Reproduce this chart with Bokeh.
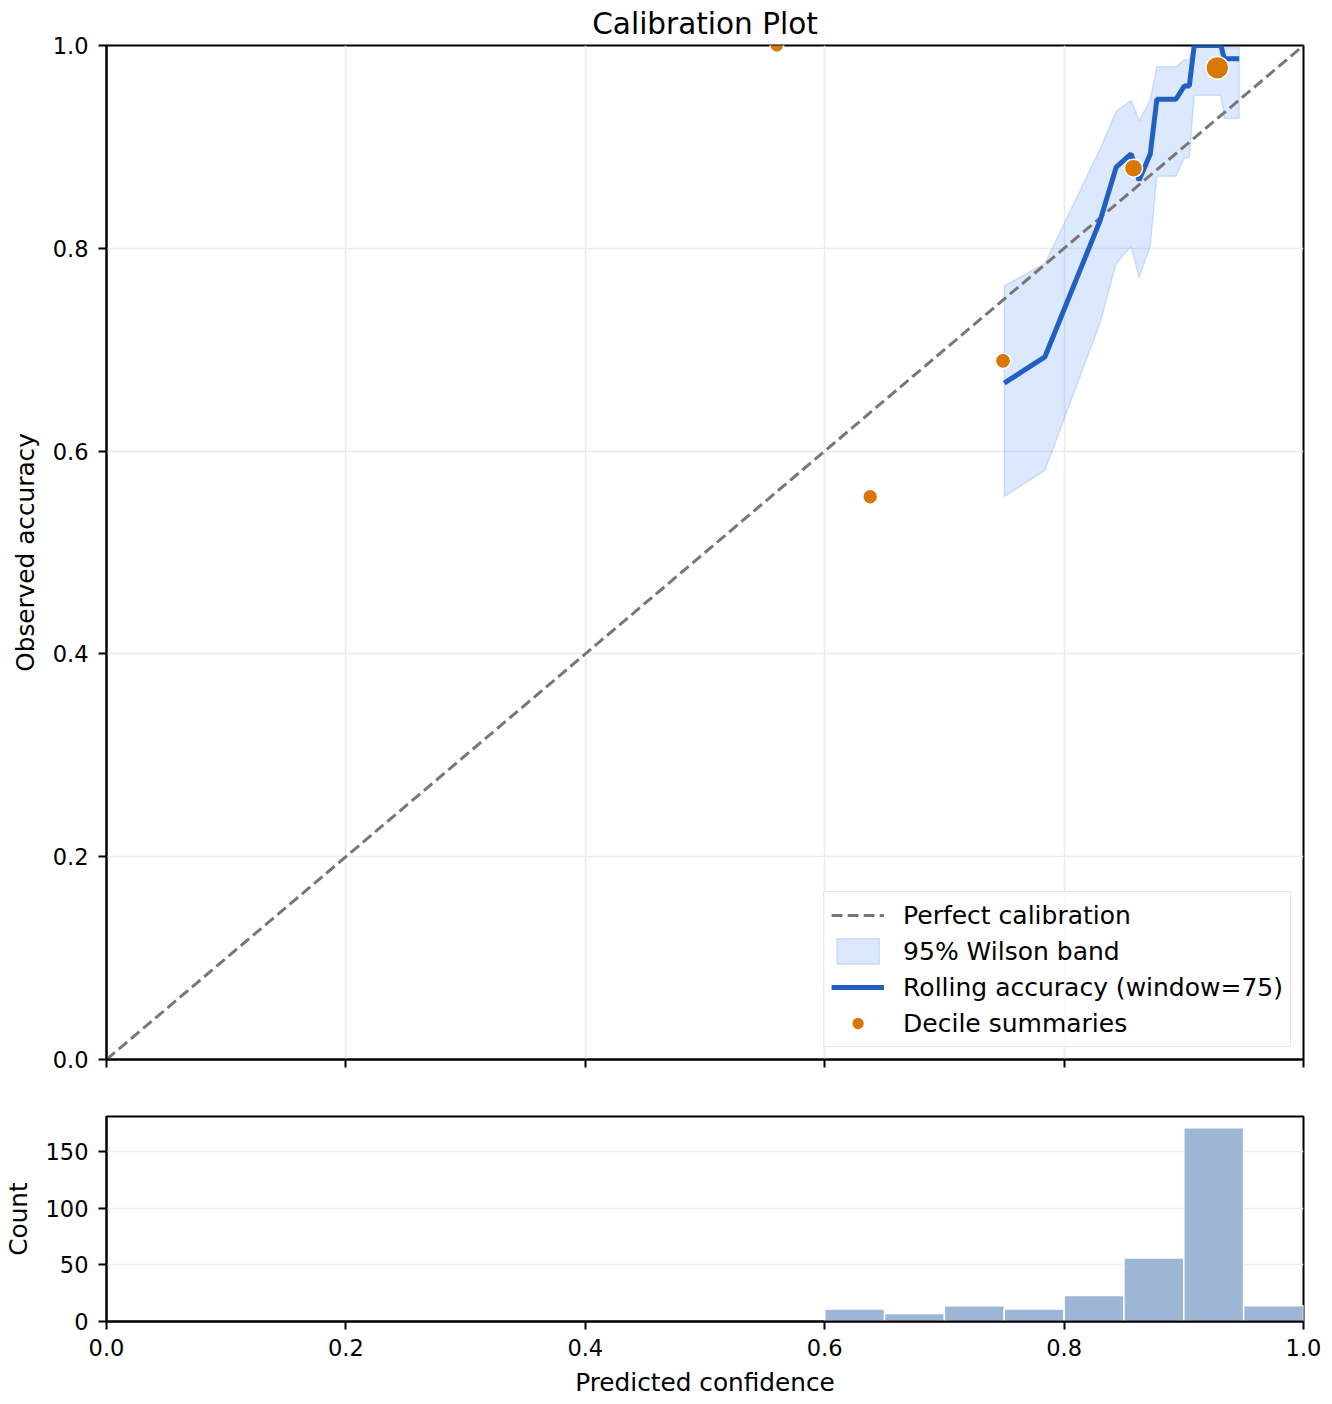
import numpy as np
from bokeh.plotting import figure
from bokeh.layouts import column
from bokeh.models import (Range1d, FixedTicker, PrintfTickFormatter, CustomJSTickFormatter,
                          Legend, LegendItem)
from bokeh.embed import file_html
from bokeh.resources import INLINE

# ---------------- data ----------------
diag = [0.0, 1.0]

roll_x = [0.750, 0.784, 0.830, 0.8435, 0.856, 0.8626, 0.872, 0.8775, 0.8934,
          0.9004, 0.9046, 0.9087, 0.9310, 0.9338, 0.9463]
roll_acc = [0.667, 0.693, 0.827, 0.880, 0.893, 0.867, 0.893, 0.947, 0.947,
            0.960, 0.960, 1.000, 1.000, 0.987, 0.987]
band_lo = [0.555, 0.581, 0.726, 0.785, 0.802, 0.771, 0.802, 0.871, 0.871,
           0.889, 0.889, 0.951, 0.951, 0.928, 0.928]
band_hi = [0.763, 0.785, 0.898, 0.935, 0.946, 0.926, 0.946, 0.979, 0.979,
           0.986, 0.986, 1.000, 1.000, 0.998, 0.998]

dec_x = [0.560, 0.638, 0.749, 0.858, 0.928]
dec_acc = [1.000, 0.555, 0.689, 0.879, 0.978]
dec_n = [1, 18, 25, 79, 185]

hist_edges = [0.60, 0.65, 0.70, 0.75, 0.80, 0.85, 0.90, 0.95, 1.00]
hist_counts = [11, 7, 14, 11, 23, 56, 171, 14]

conf_ticks = [0.0, 0.2, 0.4, 0.6, 0.8, 1.0]
acc_ticks = [0.0, 0.2, 0.4, 0.6, 0.8, 1.0]
count_ticks = [0, 50, 100, 150]

# ---------------- style ----------------
FONT = "DejaVu Sans"
TICK_FS = "22.5px"
LABEL_FS = "24.75px"
LEGEND_FS = "25px"
GRID = "#ebebeb"


def style_axes(p):
    p.outline_line_color = "black"
    p.outline_line_width = 2
    p.outline_line_alpha = 1
    for ax in p.axis:
        ax.axis_line_color = "black"
        ax.axis_line_width = 2
        ax.major_tick_line_color = "black"
        ax.major_tick_line_width = 2
        ax.major_tick_out = 8
        ax.major_tick_in = 0
        ax.minor_tick_line_color = None
        ax.major_label_text_font = FONT
        ax.major_label_text_font_size = TICK_FS
        ax.major_label_text_color = "black"
        ax.major_label_standoff = 9
        ax.axis_label_text_font = FONT
        ax.axis_label_text_font_size = LABEL_FS
        ax.axis_label_text_font_style = "normal"
        ax.axis_label_text_color = "black"
        ax.axis_label_standoff = 9
    for ax in p.yaxis:
        ax.major_label_standoff = 10
        ax.axis_label_standoff = 10


# ---------------- main calibration plot ----------------
p1 = figure(frame_width=1197, frame_height=1014,
            x_range=Range1d(0, 1), y_range=Range1d(0, 1),
            output_backend="svg", toolbar_location=None,
            min_border_left=106, min_border_right=20, min_border_top=45,
            min_border_bottom=30, title="Calibration Plot")
p1.title.align = "center"
p1.title.text_font = FONT
p1.title.text_font_size = "29.5px"
p1.title.text_font_style = "normal"
p1.title.text_color = "black"
p1.title.standoff = 9

style_axes(p1)
p1.xaxis.ticker = FixedTicker(ticks=conf_ticks)
p1.xaxis.formatter = CustomJSTickFormatter(code="return ''")
p1.yaxis.ticker = FixedTicker(ticks=acc_ticks)
p1.yaxis.formatter = PrintfTickFormatter(format="%.1f")
p1.yaxis.axis_label = "Observed accuracy"
p1.grid.grid_line_color = GRID
p1.grid.grid_line_width = 1.5

band_x = np.concatenate([roll_x, roll_x[::-1]])
band_y = np.concatenate([band_lo, band_hi[::-1]])
r_band = p1.patch(band_x, band_y, fill_color="#3b82f6", fill_alpha=0.18,
                  line_color="#3b82f6", line_alpha=0.2, line_width=1.5)
r_diag = p1.line(diag, diag, line_color="#777777", line_width=3, line_dash="11 5")
r_roll = p1.line(roll_x, roll_acc, line_color="#1f60c0", line_width=5)
dec_size = np.sqrt(150 + 1.63 * np.array(dec_n)) + 1.5
r_dec = p1.scatter(dec_x, dec_acc, size=dec_size, fill_color="#d97706",
                   line_color="white", line_width=1.5)

legend = Legend(items=[
    LegendItem(label="Perfect calibration", renderers=[r_diag]),
    LegendItem(label="95% Wilson band", renderers=[r_band]),
    LegendItem(label="Rolling accuracy (window=75)", renderers=[r_roll]),
    LegendItem(label="Decile summaries", renderers=[r_dec]),
], location="bottom_right")
legend.margin = 12
legend.padding = 7
legend.spacing = 4
legend.label_height = 32
legend.glyph_height = 32
legend.glyph_width = 53
legend.label_standoff = 19
legend.label_text_font = FONT
legend.label_text_font_size = LEGEND_FS
legend.label_text_color = "black"
legend.border_line_color = "#cccccc"
legend.border_line_width = 1.5
legend.background_fill_alpha = 0.8
p1.add_layout(legend)

# ---------------- histogram ----------------
p2 = figure(frame_width=1197, frame_height=205,
            x_range=p1.x_range, y_range=Range1d(0, 181),
            output_backend="svg", toolbar_location=None,
            min_border_left=106, min_border_right=20, min_border_top=27,
            min_border_bottom=5)
style_axes(p2)
p2.xaxis.ticker = FixedTicker(ticks=conf_ticks)
p2.xaxis.formatter = PrintfTickFormatter(format="%.1f")
p2.xaxis.axis_label = "Predicted confidence"
p2.yaxis.ticker = FixedTicker(ticks=count_ticks)
p2.yaxis.axis_label = "Count"
p2.xgrid.grid_line_color = None
p2.ygrid.grid_line_color = "#f0f0f0"
p2.ygrid.grid_line_width = 1.5

p2.quad(left=hist_edges[:-1], right=hist_edges[1:], bottom=0, top=hist_counts,
        fill_color="#9eb6d6", line_color="white", line_width=1.5)

layout = column(p1, p2)
open("out.html", "w").write(file_html(layout, INLINE))
